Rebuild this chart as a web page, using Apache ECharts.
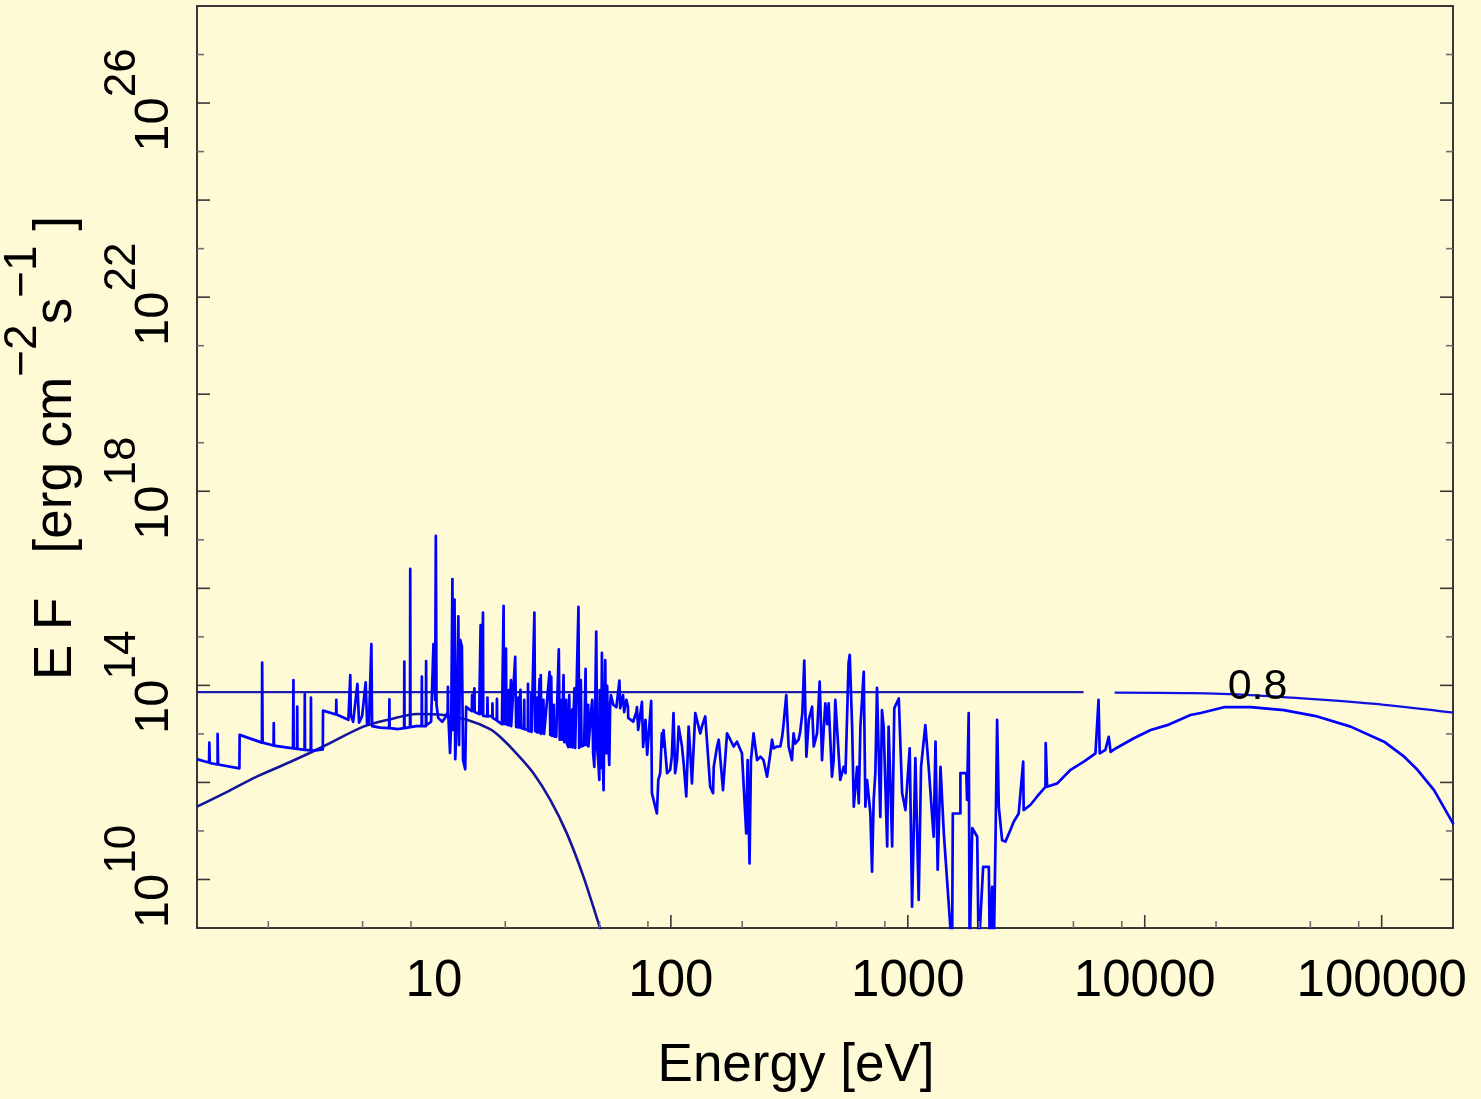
<!DOCTYPE html>
<html><head><meta charset="utf-8">
<script src="https://cdn.jsdelivr.net/npm/echarts@6/dist/echarts.min.js"></script>
<style>html,body{margin:0;padding:0;background:#fffad6;}#chart{width:1481px;height:1099px;}</style>
</head><body><div id="chart"></div>
<script>
// ---- values (pairs are [log10 E(eV), log10 EF]) ----
const specLow = [[0.000,12.48],[0.034,12.43],[0.051,12.41],[0.052,12.82],[0.054,12.40],[0.087,12.37],[0.087,13.00],[0.089,12.37],[0.179,12.29],[0.180,12.98],[0.274,12.82],[0.275,14.47],[0.277,12.82],[0.323,12.76],[0.324,13.22],[0.325,12.76],[0.405,12.70],[0.407,14.11],[0.408,12.70],[0.422,12.69],[0.423,13.56],[0.424,12.69],[0.454,12.67],[0.455,13.82],[0.456,12.67],[0.480,12.66],[0.481,13.75],[0.482,12.65],[0.531,12.68],[0.532,13.48],[0.587,13.40],[0.588,13.70],[0.589,13.40],[0.639,13.29],[0.646,13.31],[0.647,14.21],[0.649,13.39],[0.659,13.25],[0.677,14.03],[0.684,13.23],[0.697,13.37],[0.712,14.06],[0.718,13.20],[0.726,13.25],[0.736,14.85],[0.739,13.16],[0.773,13.13],[0.811,13.12],[0.812,13.71],[0.813,13.12],[0.849,13.10],[0.874,13.12],[0.875,14.49],[0.876,13.12],[0.899,13.14],[0.900,16.40],[0.901,13.14],[0.925,13.16],[0.948,13.16],[0.949,14.18],[0.950,13.16],[0.966,13.16],[0.967,14.50],[0.968,13.18],[0.988,13.25],[0.998,14.85]];
const specUV = [[1.005,13.70],[1.008,17.08],[1.011,13.60],[1.018,13.33],[1.035,13.25],[1.047,13.33],[1.058,13.45],[1.059,13.97],[1.060,13.45],[1.068,12.61],[1.073,13.29],[1.078,16.19],[1.081,13.08],[1.087,15.77],[1.090,12.48],[1.096,13.29],[1.103,15.42],[1.106,12.77],[1.111,14.94],[1.118,14.80],[1.123,12.46],[1.132,12.27],[1.136,13.56],[1.150,13.50],[1.160,13.47],[1.161,13.80],[1.162,13.47],[1.170,13.45],[1.171,13.94],[1.172,13.45],[1.191,13.41],[1.197,15.24],[1.199,13.41],[1.207,15.50],[1.208,13.37],[1.225,13.36],[1.226,13.75],[1.227,13.36],[1.246,13.37],[1.247,13.63],[1.248,13.33],[1.265,13.28],[1.266,13.72],[1.267,13.27],[1.287,13.20],[1.294,15.64],[1.296,13.20],[1.304,14.76],[1.306,13.20],[1.315,13.18],[1.316,13.90],[1.317,13.18],[1.324,13.20],[1.325,14.11],[1.326,13.16],[1.343,14.59],[1.347,13.14],[1.355,13.13],[1.356,13.75],[1.357,13.13],[1.364,13.14],[1.365,13.91],[1.368,13.12],[1.380,13.10],[1.381,13.70],[1.382,13.10],[1.396,13.08],[1.397,14.03],[1.398,13.06],[1.410,13.05],[1.411,13.85],[1.412,13.04],[1.424,15.50],[1.427,13.06],[1.436,13.03],[1.437,13.75],[1.438,13.03],[1.446,14.13],[1.448,13.02],[1.451,14.21],[1.453,13.00],[1.462,13.70],[1.465,13.00],[1.488,14.28],[1.491,12.98],[1.495,14.18],[1.498,12.96],[1.505,12.95],[1.506,13.60],[1.507,12.95],[1.516,12.94],[1.527,14.74],[1.531,12.88],[1.538,12.88],[1.539,13.70],[1.540,12.88],[1.546,12.88],[1.547,14.21],[1.550,12.83],[1.558,13.70],[1.561,12.80],[1.567,12.73],[1.571,13.80],[1.575,12.73],[1.583,12.72],[1.584,13.50],[1.585,12.72],[1.593,13.94],[1.596,12.71],[1.610,15.62],[1.613,12.71],[1.620,14.11],[1.623,12.74],[1.634,12.77],[1.640,14.34],[1.643,12.77],[1.650,12.75],[1.651,13.60],[1.652,12.74],[1.660,12.71],[1.664,13.50],[1.668,13.70],[1.672,12.60],[1.677,12.32],[1.680,13.40],[1.685,15.11],[1.689,12.71],[1.694,12.40],[1.698,12.05],[1.700,13.90],[1.702,13.40],[1.706,12.30],[1.709,14.67],[1.712,12.60],[1.716,11.84],[1.719,13.20],[1.723,14.52],[1.727,12.60],[1.731,13.99],[1.735,12.90],[1.740,12.36],[1.744,13.64],[1.747,13.80],[1.757,13.60],[1.770,13.55],[1.783,14.10],[1.786,13.53],[1.798,13.80],[1.803,13.45],[1.812,13.70],[1.819,13.56],[1.820,13.33],[1.841,13.25],[1.854,13.45],[1.857,13.55],[1.862,13.08],[1.878,13.66],[1.883,12.73],[1.893,13.29],[1.900,12.57],[1.917,13.68],[1.920,11.78],[1.941,11.36],[1.947,12.05],[1.955,12.19],[1.962,13.01],[1.967,12.74],[1.969,13.08],[1.976,13.04],[1.984,12.19],[1.990,12.19],[1.997,12.26],[2.004,12.53]];
const specEUV = [[2.011,13.43],[2.018,12.19],[2.026,12.46],[2.033,13.15],[2.047,12.74],[2.054,12.39],[2.065,11.71],[2.075,13.15],[2.082,12.60],[2.089,11.98],[2.103,13.43],[2.110,13.46],[2.124,13.01],[2.131,13.15],[2.145,13.36],[2.152,12.88],[2.166,11.91],[2.178,11.78],[2.181,12.32],[2.195,12.74],[2.202,12.88],[2.209,12.84],[2.220,11.84],[2.237,13.01],[2.251,12.88],[2.265,12.74],[2.279,12.84],[2.286,12.88],[2.300,12.60],[2.318,10.95],[2.324,12.46],[2.332,10.33],[2.338,12.46],[2.349,13.01],[2.364,12.46],[2.378,12.53],[2.391,12.46],[2.406,12.12],[2.420,12.60],[2.427,12.88],[2.434,12.70],[2.448,12.74],[2.462,12.74],[2.470,12.95],[2.476,13.22],[2.487,13.80],[2.497,12.74],[2.511,12.46],[2.518,13.01],[2.525,12.80],[2.539,12.88],[2.546,13.05],[2.555,13.43],[2.563,14.51],[2.572,12.53],[2.582,13.29],[2.596,13.56],[2.603,12.74],[2.610,12.74],[2.617,13.01],[2.628,14.08],[2.638,12.46],[2.645,13.08],[2.652,13.63],[2.660,13.20],[2.666,13.63],[2.680,12.12],[2.687,12.46],[2.694,13.70],[2.701,13.15],[2.715,12.05],[2.729,12.32],[2.737,12.19],[2.750,14.46],[2.755,14.63],[2.765,13.15],[2.772,11.50],[2.786,12.32],[2.793,11.57],[2.800,13.15],[2.814,14.28],[2.821,11.50],[2.828,12.05],[2.842,11.36],[2.849,10.16],[2.856,11.64],[2.863,12.19],[2.870,13.95],[2.884,11.29],[2.891,13.49],[2.898,13.15],[2.913,10.68],[2.919,13.15],[2.926,12.05],[2.934,10.68],[2.943,13.53],[2.962,13.73],[2.969,12.74],[2.976,11.78],[2.990,11.43]];
const specXray = [[3.008,12.70],[3.018,9.44],[3.032,12.50],[3.046,9.58],[3.056,12.32],[3.074,13.18],[3.088,12.32],[3.109,10.88],[3.117,12.84],[3.126,10.20],[3.138,12.32],[3.152,10.95],[3.187,8.50],[3.190,11.36],[3.222,11.36],[3.222,12.19],[3.247,12.19],[3.250,11.64],[3.257,13.43],[3.261,8.50],[3.272,11.06],[3.293,10.88],[3.299,8.50],[3.318,10.26],[3.342,10.26],[3.346,8.50],[3.356,9.85],[3.363,8.50],[3.370,10.75],[3.377,13.29],[3.384,11.50],[3.398,10.81],[3.412,10.78],[3.433,11.02],[3.447,11.19],[3.468,11.36],[3.487,12.43],[3.489,11.43],[3.518,11.54],[3.546,11.71],[3.581,11.91],[3.582,12.81],[3.588,11.91],[3.631,11.98],[3.687,12.26],[3.743,12.43],[3.792,12.60],[3.805,13.70],[3.810,12.60],[3.834,12.67],[3.848,12.94],[3.856,12.63],[3.877,12.70],[3.954,12.91],[4.025,13.08],[4.095,13.18],[4.193,13.39],[4.236,13.43],[4.334,13.55],[4.447,13.55],[4.587,13.49],[4.728,13.36],[4.869,13.15],[5.010,12.84],[5.095,12.53],[5.151,12.26],[5.221,11.84],[5.303,11.14]];
const blackbody = [[0.000,11.50],[0.125,11.80],[0.252,12.12],[0.393,12.42],[0.533,12.74],[0.702,13.15],[0.815,13.30],[0.928,13.41],[1.040,13.39],[1.139,13.29],[1.237,13.10],[1.279,12.94],[1.350,12.59],[1.420,12.19],[1.491,11.64],[1.561,10.95],[1.631,10.06],[1.688,9.20],[1.723,8.65]];
const incidentA = [[0.000,13.86],[3.742,13.86]];
const incidentB = [[3.873,13.85],[4.193,13.84],[4.447,13.80],[4.728,13.71],[5.010,13.60],[5.303,13.44]];
const annotations = [{text:'0.8', logE:4.476, logEF:13.96}];
const xRange = [1, 2e5];
const yRange = [1e9, 1e28];
const xLabelValues = [10, 100, 1000, 10000, 100000];
const xMajorTicks = [100, 1000, 10000, 100000];
const xMinorTicks = [2,5,8,20,50,80,200,500,800,2000,5000,8000,20000,50000,80000];
const yLabelExps = [10, 14, 18, 22, 26];
const yMajorExps = [10,12,14,16,18,20,22,24,26];
const yMinorExps = [11,13,15,17,19,21,23,25,27];
const xTitle = 'Energy [eV]';
const yTitleParts = [['E F   [erg cm', 0], ['−2', 1], ['s', 0], ['−1', 1], [' ]', 0]];

const FONT = '"Liberation Sans", Arial, Helvetica, sans-serif';
const toData = arr => arr.map(p => [Math.pow(10, p[0]), Math.pow(10, p[1])]);
const AXIS = '#383838', MINOR = '#6e6e6e';
const mctx = document.createElement('canvas').getContext('2d');
function tw(text, size){ mctx.font = size + 'px ' + FONT; return mctx.measureText(text).width; }
function txt(text, size, x, y){
  return {type:'text', x:x, y:y, style:{text:text, fill:'#000', fontSize:size, fontFamily:FONT, align:'center', verticalAlign:'middle'}};
}
// builds base/superscript pieces laid out along local x, centred on 0
function supPieces(parts, baseSize, supSize, raise){
  const widths = parts.map(p => tw(p[0], p[1] ? supSize : baseSize));
  const total = widths.reduce((a,b)=>a+b, 0);
  let cur = -total/2;
  return parts.map((p,i) => { const c = cur + widths[i]/2; cur += widths[i];
    return txt(p[0], p[1] ? supSize : baseSize, c, p[1] ? -raise : 0); });
}

function tickSeries(data, dir, len, color){
  return {type:'custom', coordinateSystem:'cartesian2d', silent:true, clip:false, z:6, animation:false,
    data: data,
    renderItem:(params, api)=>{
      const p = api.coord([api.value(0), api.value(1)]);
      const s = {x1:p[0], y1:p[1], x2:p[0] + dir[0]*len, y2:p[1] + dir[1]*len};
      return {type:'line', shape:s, style:{stroke:color, lineWidth:1.6}};
    }};
}

const series = [
  {type:'line', name:'spectrum', data: toData([].concat(specLow, specUV, specEUV, specXray)), symbol:'none', showSymbol:false,
    lineStyle:{color:'#0000ff', width:2.7, join:'round'}, animation:false, z:3},
  {type:'line', name:'blackbody', data: toData(blackbody), symbol:'none', showSymbol:false, smooth:0.3,
    lineStyle:{color:'#14149c', width:2.6}, animation:false, z:2},
  {type:'line', name:'incidentA', data: toData(incidentA), symbol:'none', showSymbol:false,
    lineStyle:{color:'#1c1cb0', width:2.3}, animation:false, z:2},
  {type:'line', name:'incidentB', data: toData(incidentB), symbol:'none', showSymbol:false, smooth:0.3,
    lineStyle:{color:'#1010e0', width:2.3}, animation:false, z:2},
  tickSeries(xMajorTicks.map(v=>[v, yRange[0]]), [0,-1], 13, AXIS),
  tickSeries(xMinorTicks.map(v=>[v, yRange[0]]), [0,-1], 7, MINOR),
  tickSeries(yMajorExps.map(e=>[xRange[0], Math.pow(10,e)]), [1,0], 13, AXIS),
  tickSeries(yMinorExps.map(e=>[xRange[0], Math.pow(10,e)]), [1,0], 7, MINOR),
  tickSeries(yMajorExps.map(e=>[xRange[1], Math.pow(10,e)]), [-1,0], 13, AXIS),
  tickSeries(yMinorExps.map(e=>[xRange[1], Math.pow(10,e)]), [-1,0], 7, MINOR),
  // x tick labels
  {type:'custom', coordinateSystem:'cartesian2d', silent:true, clip:false, z:7, animation:false,
    data: xLabelValues.map(v=>[v, yRange[0]]),
    renderItem:(params, api)=>{
      const p = api.coord([api.value(0), api.value(1)]);
      return txt(String(xLabelValues[params.dataIndex]), 51, p[0], p[1]+53.5);
    }},
  // y tick labels: 10^n, rotated
  {type:'custom', coordinateSystem:'cartesian2d', silent:true, clip:false, z:7, animation:false,
    data: yLabelExps.map(e=>[xRange[0], Math.pow(10,e)]),
    renderItem:(params, api)=>{
      const p = api.coord([api.value(0), api.value(1)]);
      return {type:'group', x:p[0]-42.5, y:p[1]-3, rotation:Math.PI/2,
        children: supPieces([['10',0],[String(yLabelExps[params.dataIndex]),1]], 49, 44, 32)};
    }},
  // annotation
  {type:'custom', coordinateSystem:'cartesian2d', silent:true, clip:false, z:7, animation:false,
    data: annotations.map(a=>[Math.pow(10,a.logE), Math.pow(10,a.logEF)]),
    renderItem:(params, api)=>{
      const p = api.coord([api.value(0), api.value(1)]);
      return txt(annotations[params.dataIndex].text, 43, p[0], p[1]);
    }}
];

const chart = echarts.init(document.getElementById('chart'), null, {renderer:'canvas'});
chart.setOption({
  backgroundColor:'#fffad6',
  animation:false,
  grid:{left:197, top:6, width:1256, height:922, show:true, borderColor:AXIS, borderWidth:2, backgroundColor:'transparent', containLabel:false},
  xAxis:{type:'log', logBase:10, min:xRange[0], max:xRange[1], axisLine:{show:false}, axisTick:{show:false}, axisLabel:{show:false}, splitLine:{show:false}},
  yAxis:{type:'log', logBase:10, min:yRange[0], max:yRange[1], axisLine:{show:false}, axisTick:{show:false}, axisLabel:{show:false}, splitLine:{show:false}},
  graphic:[
    txt(xTitle, 53, 796, 1066),
    {type:'group', x:56, y:448, rotation:Math.PI/2, children: supPieces(yTitleParts, 53, 46, 33)}
  ],
  series: series
});
</script></body></html>
